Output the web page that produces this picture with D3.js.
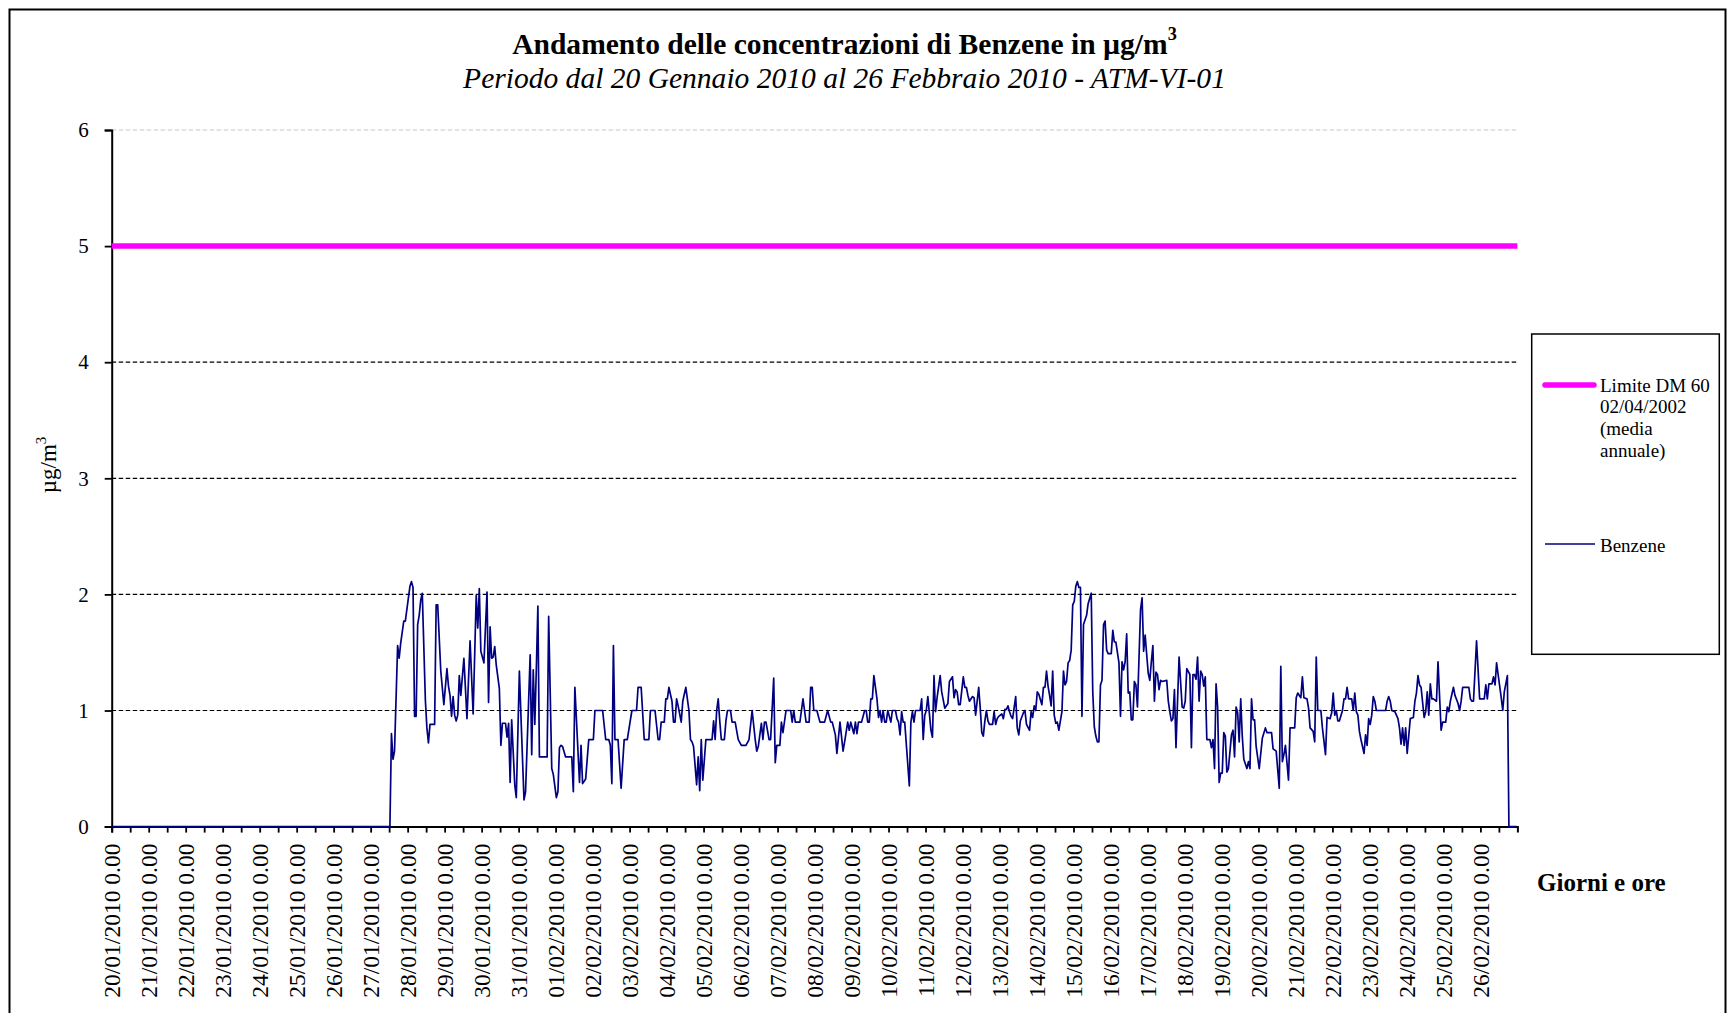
<!DOCTYPE html>
<html>
<head>
<meta charset="utf-8">
<script src="https://cdn.jsdelivr.net/npm/d3@7"></script>
<style>
  html, body { margin: 0; padding: 0; background: #fff; }
  svg { display: block; }
  text { font-family: "Liberation Serif", "Times New Roman", serif; fill: #000; }
</style>
</head>
<body>
<svg id="chart" width="1728" height="1013"></svg>
<script>
// ---------------- DATA ----------------
const titleText = "Andamento delle concentrazioni di Benzene in µg/m";
const subtitleText = "Periodo dal 20 Gennaio 2010 al 26 Febbraio 2010 - ATM-VI-01";
const yAxisTitle = "µg/m";
const xAxisTitle = "Giorni e ore";
const yTicks = [0, 1, 2, 3, 4, 5, 6];
const hoursTotal = 912; // hourly categories 20/01/2010 0.00 .. 26/02/2010 23.00
const dayLabels = [
  "20/01/2010 0.00","21/01/2010 0.00","22/01/2010 0.00","23/01/2010 0.00","24/01/2010 0.00",
  "25/01/2010 0.00","26/01/2010 0.00","27/01/2010 0.00","28/01/2010 0.00","29/01/2010 0.00",
  "30/01/2010 0.00","31/01/2010 0.00","01/02/2010 0.00","02/02/2010 0.00","03/02/2010 0.00",
  "04/02/2010 0.00","05/02/2010 0.00","06/02/2010 0.00","07/02/2010 0.00","08/02/2010 0.00",
  "09/02/2010 0.00","10/02/2010 0.00","11/02/2010 0.00","12/02/2010 0.00","13/02/2010 0.00",
  "14/02/2010 0.00","15/02/2010 0.00","16/02/2010 0.00","17/02/2010 0.00","18/02/2010 0.00",
  "19/02/2010 0.00","20/02/2010 0.00","21/02/2010 0.00","22/02/2010 0.00","23/02/2010 0.00",
  "24/02/2010 0.00","25/02/2010 0.00","26/02/2010 0.00"
];
const limitName = ["Limite DM 60", "02/04/2002", "(media", "annuale)"];
const limitValue = 5;
const benzeneName = "Benzene";
// Benzene: hour index (from 20/01/2010 0.00) and concentration, vertices
const benzeneHour = [
  0,180,181,182,183,185,186,187,189,190,192,193,194,195,196,197,198,199,200,201,
  203,204,205,206,209,210,211,213,215,217,218,219,220,221,222,223,224,225,226,228,
  230,232,234,236,237,238,239,241,243,244,245,246,247,248,249,251,252,253,255,256,
  257,258,259,261,262,264,265,267,268,271,272,273,274,275,276,277,282,283,285,286,
  288,289,290,291,292,294,298,299,300,303,304,305,307,309,312,313,318,320,322,323,
  324,325,326,328,330,332,334,337,340,341,343,345,348,349,352,354,355,356,358,359,
  360,361,363,364,365,366,367,369,370,372,374,375,376,377,379,380,381,382,383,385,
  389,390,391,392,393,394,395,397,398,399,401,402,404,406,408,411,413,415,417,418,
  419,420,421,422,423,424,426,427,429,430,431,433,434,435,437,440,441,442,443,446,
  448,449,450,452,453,454,455,457,459,462,464,466,467,469,470,472,474,475,477,478,
  479,480,481,482,483,484,486,488,489,490,491,492,493,494,496,497,498,499,500,501,
  502,503,505,506,508,509,510,511,512,513,514,517,518,519,520,521,524,525,526,527,
  528,529,531,532,533,534,535,537,538,540,542,543,545,546,547,548,549,550,552,553,
  554,555,556,558,559,560,562,563,564,565,566,567,568,569,571,572,573,574,575,577,
  578,579,580,581,582,583,584,586,587,588,589,591,592,593,595,596,597,598,599,600,
  601,603,604,605,606,607,608,609,610,611,612,613,614,616,617,618,619,620,621,622,
  623,624,625,626,627,628,629,630,632,633,635,636,637,638,639,640,641,642,643,644,
  645,646,648,649,650,651,653,654,655,656,657,658,659,660,661,662,663,664,665,667,
  668,669,670,671,672,673,674,675,676,677,678,679,680,681,684,685,686,687,688,689,
  690,691,692,694,695,696,697,699,700,701,702,703,704,705,706,707,708,709,710,712,
  713,714,715,716,717,718,719,720,721,722,723,724,726,727,728,729,730,731,732,733,
  734,736,737,738,739,740,741,742,744,746,748,749,752,753,755,757,758,759,760,761,
  763,764,767,768,769,771,772,773,775,776,777,779,780,781,782,784,785,787,788,790,
  791,792,793,794,795,796,798,799,800,801,802,804,805,806,807,808,809,810,812,813,
  814,815,816,817,818,819,820,826,827,828,829,830,832,834,835,836,837,838,839,840,
  842,844,845,846,847,848,849,851,852,853,854,855,856,857,859,860,862,863,865,866,
  867,868,870,871,873,874,875,876,880,881,882,883,885,887,890,891,892,893,895,896,
  897,898,899,901,902,903,905,906,911
];
const benzeneValue = [
  0,0,0.80,0.58,0.65,1.56,1.45,1.58,1.77,1.77,1.97,2.07,2.11,2.06,0.95,0.95,1.74,1.82,1.95,2.01,
  1.09,0.85,0.72,0.88,0.88,1.91,1.91,1.34,1.05,1.36,1.21,1.13,0.95,1.12,0.96,0.91,0.96,1.30,1.13,1.45,
  0.93,1.60,0.97,1.99,1.71,2.05,1.51,1.41,2.02,1.07,1.72,1.45,1.46,1.55,1.39,1.19,0.70,0.89,0.89,0.77,
  0.89,0.38,0.92,0.36,0.25,1.34,0.96,0.23,0.30,1.48,0.62,1.35,0.88,1.36,1.90,0.60,0.60,1.81,0.50,0.45,
  0.25,0.30,0.68,0.70,0.69,0.60,0.60,0.30,1.20,0.38,0.70,0.37,0.41,0.75,0.75,1.00,1.00,0.75,0.75,0.70,
  0.37,1.56,0.75,0.75,0.33,0.75,0.75,1.00,1.00,1.20,1.20,0.75,0.75,1.00,1.00,0.75,0.75,0.90,0.90,1.10,
  1.10,1.20,1.08,0.90,0.90,1.10,1.04,0.90,1.08,1.20,1.00,0.75,0.73,0.69,0.36,0.60,0.31,0.75,0.40,0.75,
  0.75,0.91,0.75,1.00,1.10,0.91,0.75,0.75,0.91,1.00,1.00,0.90,0.90,0.75,0.70,0.70,0.75,1.00,0.75,0.65,
  0.69,0.79,0.89,0.75,0.90,0.90,0.75,0.75,1.28,0.55,0.70,0.70,0.90,0.81,1.00,1.00,0.90,1.00,0.90,0.90,
  1.10,1.00,0.90,0.90,1.20,1.20,1.00,1.00,0.90,0.90,1.00,0.90,0.90,0.79,0.63,0.90,0.65,0.73,0.90,0.83,
  0.90,0.85,0.80,0.90,0.80,0.90,0.90,1.00,1.00,0.90,0.90,1.10,1.10,1.30,1.10,0.94,1.00,0.90,1.00,0.90,
  0.90,1.00,0.90,1.00,1.00,0.93,0.90,0.79,0.99,0.90,0.90,0.35,0.90,0.99,0.90,1.00,1.00,1.10,0.75,0.96,
  1.00,1.12,0.83,0.77,1.30,0.99,1.11,1.30,1.16,1.02,1.06,1.25,1.29,1.11,1.18,1.16,1.05,1.05,1.29,1.20,
  1.20,1.13,1.08,1.12,1.11,0.96,1.20,1.02,0.81,0.78,0.91,1.00,0.91,0.88,0.88,0.99,0.88,0.93,0.95,0.97,
  0.93,1.01,1.01,1.04,0.99,0.95,0.93,1.12,0.85,0.79,0.91,0.98,1.00,0.88,0.83,0.99,0.94,1.04,1.00,1.16,
  1.14,1.05,1.20,1.20,1.34,1.21,1.13,1.04,1.34,0.96,0.89,0.90,0.83,0.99,1.34,1.22,1.25,1.41,1.43,1.52,
  1.91,1.94,2.07,2.11,2.06,2.06,0.95,1.74,1.82,1.92,2.01,1.16,0.86,0.78,0.73,0.73,1.22,1.26,1.74,1.77,
  1.52,1.49,1.49,1.69,1.59,1.59,1.41,0.95,1.42,1.35,1.42,1.66,1.15,1.16,0.92,0.92,1.25,1.22,1.03,1.87,
  1.97,1.51,1.65,1.48,1.32,1.26,1.42,1.56,1.08,1.33,1.31,1.18,1.26,1.25,1.26,1.08,0.99,0.91,0.93,1.18,
  0.68,1.08,1.46,1.03,1.02,1.08,1.36,1.31,0.68,1.31,1.31,1.27,1.46,1.08,1.34,1.31,1.21,1.29,0.75,0.75,
  0.68,0.75,0.50,1.23,1.03,0.38,0.46,0.46,0.81,0.78,0.47,0.50,0.79,0.83,0.60,1.03,0.98,0.73,1.10,0.78,
  0.58,0.50,0.56,0.50,1.10,0.92,0.92,0.69,0.50,0.76,0.85,0.81,0.81,0.67,0.65,0.33,1.38,0.56,0.62,0.70,
  0.40,0.85,0.85,1.11,1.15,1.11,1.29,1.11,1.10,1.02,0.85,0.82,0.73,1.46,1.00,1.00,0.85,0.62,0.94,0.93,
  0.98,1.15,0.96,1.00,0.91,0.91,1.00,1.10,1.10,1.20,1.10,1.10,1.00,1.15,0.99,0.96,0.82,0.75,0.63,0.79,
  0.70,0.93,0.88,0.96,1.12,1.08,1.00,1.00,1.08,1.12,1.08,1.00,0.99,0.93,0.85,0.71,0.85,0.70,0.85,0.63,
  0.93,0.94,1.08,1.15,1.30,1.22,1.20,0.94,0.99,1.16,0.96,1.23,1.10,1.10,1.08,1.42,0.83,0.90,0.90,1.03,
  0.99,1.08,1.20,1.13,1.06,1.00,1.08,1.20,1.20,1.10,1.08,1.08,1.60,1.10,1.10,1.22,1.10,1.23,1.23,1.29,
  1.22,1.41,1.31,1.11,1.00,1.16,1.30,0,0
];

// ---------------- DRAWING ----------------
const svg = d3.select("#chart");
const plot = { left: 111.7, right: 1517.4, top: 130, bottom: 826.6 };

svg.append("rect").attr("x", 0).attr("y", 0).attr("width", 1728).attr("height", 1013).attr("fill", "#fff");
svg.append("rect").attr("x", 9.5).attr("y", 9.5).attr("width", 1716).attr("height", 1100)
  .attr("fill", "none").attr("stroke", "#000").attr("stroke-width", 2);

const x = d3.scaleLinear().domain([0, hoursTotal]).range([plot.left, plot.right]);
const y = d3.scaleLinear().domain([0, 6]).range([plot.bottom, plot.top]);

function fitWidth(sel, target) {
  const w = sel.node().getComputedTextLength();
  const fs = parseFloat(sel.attr("font-size"));
  sel.attr("font-size", (fs * target / w).toFixed(2));
}

// Title
const t1 = svg.append("text").attr("x", 844.5).attr("y", 53.5).attr("text-anchor", "middle")
  .attr("font-size", 28).attr("font-weight", "bold");
t1.append("tspan").text(titleText);
t1.append("tspan").attr("font-size", "0.62em").attr("dy", "-0.75em").text("3");
fitWidth(t1, 665);

const t2 = svg.append("text").attr("x", 844.5).attr("y", 87.5).attr("text-anchor", "middle")
  .attr("font-size", 28).attr("font-style", "italic").text(subtitleText);
fitWidth(t2, 763);

// Gridlines
const grid = svg.append("g");
grid.selectAll("line").data(yTicks.filter(d => d > 0)).join("line")
  .attr("x1", x(0)).attr("x2", x(hoursTotal))
  .attr("y1", d => y(d)).attr("y2", d => y(d))
  .attr("stroke", d => d === 6 ? "#c8c8c8" : "#000")
  .attr("stroke-width", 1.2)
  .attr("stroke-dasharray", "4.5,2.5");

// Y axis
const yAxis = svg.append("g").attr("transform", `translate(${plot.left},0)`)
  .call(d3.axisLeft(y).tickValues(yTicks).tickSize(7).tickPadding(16).tickFormat(d3.format("d")));
yAxis.select(".domain").attr("stroke", "#000").attr("stroke-width", 2);
yAxis.selectAll(".tick line").attr("stroke", "#000").attr("stroke-width", 1.8);
yAxis.selectAll("text").attr("font-family", "Liberation Serif").attr("font-size", 21).attr("fill", "#000");

// Y axis title
const yt = svg.append("text").attr("transform", "translate(48,465) rotate(-90)")
  .attr("text-anchor", "middle").attr("dy", "0.35em").attr("font-size", 23);
yt.append("tspan").text(yAxisTitle);
yt.append("tspan").attr("font-size", "0.65em").attr("dy", "-0.7em").text("3");

// X axis
const xAxis = svg.append("g").attr("transform", `translate(0,${plot.bottom})`)
  .call(d3.axisBottom(x).tickValues(d3.range(0, hoursTotal - 11, 12)).tickSize(6).tickFormat(""));
xAxis.select(".domain").attr("stroke", "#000").attr("stroke-width", 2);
xAxis.selectAll(".tick line").attr("stroke", "#000").attr("stroke-width", 1.8);

svg.append("g").selectAll("text").data(dayLabels).join("text")
  .attr("transform", (d, i) => `translate(${x(i * 24 + 0.5)},${plot.bottom + 17}) rotate(-90)`)
  .attr("text-anchor", "end").attr("dy", "0.34em").attr("font-size", 23.5)
  .text(d => d);

// X axis title
svg.append("text").attr("x", 1537).attr("y", 890.5).attr("font-size", 25).attr("font-weight", "bold")
  .text(xAxisTitle);

// Limit line
svg.append("line").attr("x1", x(0)).attr("x2", x(hoursTotal))
  .attr("y1", y(limitValue)).attr("y2", y(limitValue))
  .attr("stroke", "#ff00ff").attr("stroke-width", 5.5);

// Benzene line
const pts = benzeneHour.map((h, i) => [h, benzeneValue[i]]);
svg.append("path").datum(pts)
  .attr("d", d3.line().x(d => x(d[0] + 0.5)).y(d => y(d[1])))
  .attr("fill", "none").attr("stroke", "#000080").attr("stroke-width", 1.7)
  .attr("stroke-linejoin", "round");

// Legend
const lg = svg.append("g");
lg.append("rect").attr("x", 1531.7).attr("y", 334).attr("width", 187.6).attr("height", 320.3)
  .attr("fill", "#fff").attr("stroke", "#000").attr("stroke-width", 1.5);
lg.append("line").attr("x1", 1545).attr("x2", 1594).attr("y1", 385).attr("y2", 385)
  .attr("stroke", "#ff00ff").attr("stroke-width", 5.5).attr("stroke-linecap", "round");
lg.selectAll("text.lim").data(limitName).join("text").attr("class", "lim")
  .attr("x", 1600).attr("y", (d, i) => 391.5 + i * 21.8).attr("font-size", 19).text(d => d);
lg.append("line").attr("x1", 1545).attr("x2", 1595).attr("y1", 544).attr("y2", 544)
  .attr("stroke", "#000080").attr("stroke-width", 1.7);
lg.append("text").attr("x", 1600).attr("y", 551.5).attr("font-size", 19).text(benzeneName);
</script>
</body>
</html>
